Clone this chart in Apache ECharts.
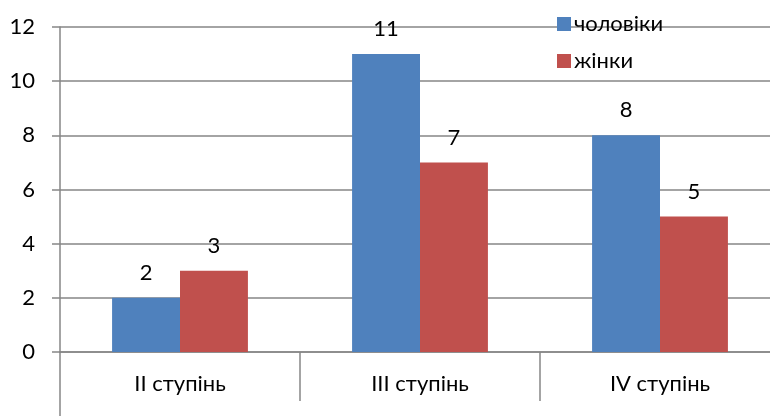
<!DOCTYPE html>
<html>
<head>
<meta charset="utf-8">
<script src="https://cdn.jsdelivr.net/npm/echarts@6/dist/echarts.min.js"></script>
<style>
  html, body { margin: 0; padding: 0; background: #fff; }
  #chart { width: 770px; height: 416px; }
</style>
</head>
<body>
<div id="chart"></div>
<script>
// Categories and series values
const categories = ['II ступінь', 'III ступінь', 'IV ступінь'];
const men = [2, 11, 8];
const women = [3, 7, 5];
const seriesNames = ['чоловіки', 'жінки'];
const yTicks = { min: 0, max: 12, interval: 2 };

const FONT = 'Lato, "Liberation Sans", sans-serif';
const GRID_COLOR = '#868686';

const chart = echarts.init(document.getElementById('chart'));

const barLabel = {
  show: true, position: 'top', distance: 14,
  fontSize: 22, color: '#000', fontFamily: FONT
};

chart.setOption({
  animation: false,
  textStyle: { fontFamily: FONT },
  legend: {
    orient: 'vertical',
    left: 552,
    top: 8,
    itemWidth: 14,
    itemHeight: 14,
    itemGap: 15,
    icon: 'rect',
    textStyle: { fontSize: 22, color: '#000', fontFamily: FONT, padding: [0, 0, 0, -2] },
    data: seriesNames
  },
  // the plot runs past the right edge of the canvas
  grid: { left: 60, width: 720, top: 27, bottom: 64, outerBoundsMode: 'none', containLabel: false },
  xAxis: [
    {
      type: 'category',
      data: categories,
      axisLine: { lineStyle: { color: GRID_COLOR, width: 1.5 } },
      axisTick: { show: true, length: 49, lineStyle: { color: GRID_COLOR, width: 1.5 } },
      axisLabel: { fontSize: 22, color: '#000', margin: 21, fontFamily: FONT }
    },
    {
      // continues the vertical axis line below the category axis
      type: 'category',
      position: 'bottom',
      data: categories,
      axisLine: { show: false },
      axisLabel: { show: false },
      axisTick: {
        show: true, length: 64,
        interval: (i) => i === 0,
        lineStyle: { color: GRID_COLOR, width: 1.5 }
      }
    }
  ],
  yAxis: {
    type: 'value',
    min: yTicks.min,
    max: yTicks.max,
    interval: yTicks.interval,
    axisLine: { show: true, lineStyle: { color: GRID_COLOR, width: 1.5 } },
    axisTick: { show: true, length: 8, lineStyle: { color: GRID_COLOR, width: 1.5 } },
    splitLine: { lineStyle: { color: GRID_COLOR, width: 1.5 } },
    axisLabel: { fontSize: 22, color: '#000', margin: 25, fontFamily: FONT }
  },
  series: [
    {
      name: seriesNames[0],
      type: 'bar',
      data: men,
      barWidth: '28.3%',
      barGap: '0%',
      itemStyle: { color: '#4F81BD' },
      label: barLabel
    },
    {
      name: seriesNames[1],
      type: 'bar',
      data: women,
      barWidth: '28.3%',
      itemStyle: { color: '#C0504D' },
      label: barLabel
    }
  ]
});
</script>
</body>
</html>
